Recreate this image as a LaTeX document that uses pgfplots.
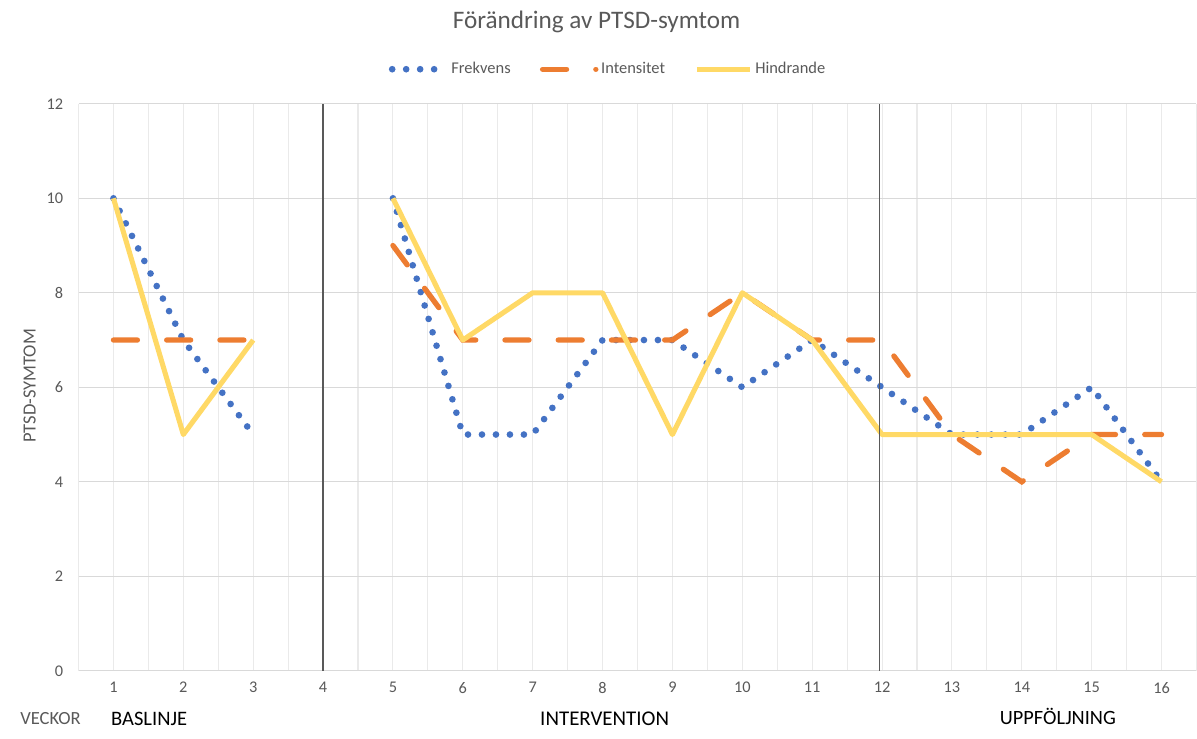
\documentclass[border=0pt]{standalone}
\usepackage{pgfplots}
\pgfplotsset{compat=1.18}
\usepackage{fontspec}
\setmainfont{Carlito}
\definecolor{cblue}{HTML}{4472C4}
\definecolor{corange}{HTML}{ED7D31}
\definecolor{cyellow}{HTML}{FFD966}
\definecolor{tgray}{HTML}{595959}
\definecolor{ggray}{HTML}{D9D9D9}
\definecolor{mgray}{HTML}{EAEAEA}
\begin{document}
\begin{tikzpicture}
\begin{axis}[
  scale only axis,
  width=840bp, height=426bp,
  xmin=0.5, xmax=16.5, ymin=0, ymax=12,
  xtick={1,...,16}, minor xtick={0.5,1.5,...,16.5},
  ytick={0,2,...,12},
  axis line style={draw=none},
  xtick pos=bottom, ytick pos=left,
  major tick length=0pt, minor tick length=0pt,
  xmajorgrids, xminorgrids, ymajorgrids,
  major x grid style={mgray, line width=0.8bp},
  minor x grid style={mgray, line width=0.8bp},
  major y grid style={ggray, line width=0.8bp},
  tick label style={font=\fontsize{12.3}{14}\selectfont, text=tgray},
  /pgf/number format/assume math mode=true,
  xticklabel style={yshift=-5bp},
  yticklabel style={xshift=-8bp},
  unbounded coords=jump,
  clip=false,
  title={Förändring av PTSD-symtom},
  title style={at={(0.4634,1.13)}, anchor=center, font=\fontsize{19}{22}\selectfont, text=tgray},
  legend style={at={(0.474,1.061)}, anchor=center, draw=none, fill=none,
    legend columns=3, font=\fontsize{12.4}{14}\selectfont, text=tgray,
    /tikz/every even column/.append style={column sep=20bp},
    nodes={inner xsep=2bp}},
  legend image code/.code={\draw[#1] (0bp,0bp) -- (40bp,0bp);},
]
\addplot[cblue, line width=5bp, line cap=round, dash pattern=on 0bp off 10.5bp]
  coordinates {(1,10) (2,7) (3,5) (4,nan) (5,10) (6,5) (7,5) (8,7) (9,7) (10,6) (11,7) (12,6) (13,5) (14,5) (15,6) (16,4)};
\addlegendentry{Frekvens}
\addplot[corange, line width=4bp, line cap=round, dash pattern=on 18bp off 22bp]
  coordinates {(1,7) (2,7) (3,7) (4,nan) (5,9) (6,7) (7,7) (8,7) (9,7) (10,8) (11,7) (12,7) (13,5) (14,4) (15,5) (16,5)};
\addlegendentry{Intensitet}
\addplot[cyellow, line width=3.8bp, line join=round]
  coordinates {(1,10) (2,5) (3,7) (4,nan) (5,10) (6,7) (7,8) (8,8) (9,5) (10,8) (11,7) (12,5) (13,5) (14,5) (15,5) (16,4)};
\addlegendentry{Hindrande}
\draw[tgray, line width=0.9bp] (axis cs:4,0) -- (axis cs:4,12);
\draw[tgray, line width=0.9bp] (axis cs:11.96,0) -- (axis cs:11.96,12);
\node[rotate=90, text=tgray, font=\fontsize{14}{16}\selectfont] at (axis cs:-0.2,6.03) {PTSD-SYMTOM};
\node[anchor=west, text=tgray, font=\fontsize{14}{16}\selectfont] at (axis cs:-0.4,-1.014) {VECKOR};
\node[anchor=west, text=black, font=\fontsize{15.5}{17}\selectfont] at (axis cs:0.9,-1.014) {BASLINJE};
\node[anchor=center, text=black, font=\fontsize{15.8}{17}\selectfont] at (axis cs:8.03,-1.014) {INTERVENTION};
\node[anchor=west, text=black, font=\fontsize{15.3}{17}\selectfont] at (axis cs:13.62,-0.97) {UPPFÖLJNING};
\path ([xshift=-59bp,yshift=-51bp]rel axis cs:0,0) rectangle ([yshift=78bp]rel axis cs:1,1);
\end{axis}
\end{tikzpicture}
\end{document}
